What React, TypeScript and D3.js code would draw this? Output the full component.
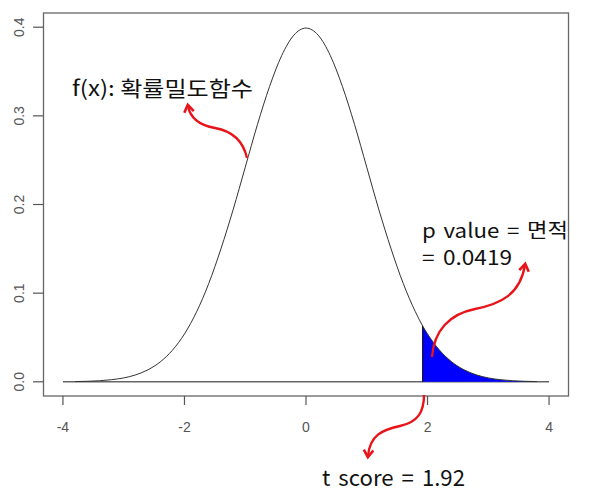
import React from "react";
import * as d3 from "d3";

// Density values (x, f(x))
const densX = [-3.8, -3.6, -3.4, -3.2, -3.0, -2.8, -2.6, -2.4, -2.2, -2.0, -1.8, -1.6, -1.4, -1.2, -1.0, -0.8, -0.6, -0.4, -0.2, 0.0, 0.2, 0.4, 0.6, 0.8, 1.0, 1.2, 1.4, 1.6, 1.8, 1.92, 2.0, 2.2, 2.4, 2.6, 2.8, 3.0, 3.2, 3.4, 3.6, 3.8];
const densY = [0.0003, 0.0006, 0.0012, 0.0024, 0.0044, 0.0079, 0.0136, 0.0224, 0.0355, 0.054, 0.079, 0.111, 0.150, 0.194, 0.242, 0.290, 0.333, 0.368, 0.391, 0.399, 0.391, 0.368, 0.333, 0.290, 0.242, 0.194, 0.150, 0.111, 0.079, 0.063, 0.054, 0.0355, 0.0224, 0.0136, 0.0079, 0.0044, 0.0024, 0.0012, 0.0006, 0.0003];
const tScore = 1.92;
const xTicks = [-4, -2, 0, 2, 4];
const yTicks = [0.0, 0.1, 0.2, 0.3, 0.4];
const xTickLabels = ["-4", "-2", "0", "2", "4"];
const yTickLabels = ["0.0", "0.1", "0.2", "0.3", "0.4"];
const labelFx = "f(x): 확률밀도함수";
const labelP1 = "p value = 면적";
const labelP2 = "= 0.0419";
const labelT = "t score = 1.92";

export default function App() {
  const x = d3.scaleLinear().domain([-4.32, 4.32]).range([43.5, 568.5]);
  const y = d3.scaleLinear().domain([-0.016, 0.416]).range([396, 13]);
  const pts: [number, number][] = densX.map((v, i) => [v, densY[i]]);
  const line = d3
    .line<[number, number]>()
    .x((d) => x(d[0]))
    .y((d) => y(d[1]))
    .curve(d3.curveMonotoneX);
  const tail = pts.filter((d) => d[0] >= tScore);
  const area = d3
    .area<[number, number]>()
    .x((d) => x(d[0]))
    .y0(y(0))
    .y1((d) => y(d[1]))
    .curve(d3.curveMonotoneX);
  const axisFont = "'Liberation Sans', Arial, sans-serif";
  const korFont = "'Noto Sans CJK KR', 'Noto Sans', sans-serif";
  const tickColor = "#555";
  return (
    <svg
      width={592}
      height={497}
      style={{ position: "absolute", left: 0, top: 0, background: "#fff" }}
    >
      <defs>
        <marker
          id="arr"
          viewBox="0 0 10 10"
          refX="6"
          refY="5"
          markerWidth="5"
          markerHeight="5"
          orient="auto"
          markerUnits="strokeWidth"
        >
          <path d="M1,1 L7,5 L1,9" fill="none" stroke="#e8141a" strokeWidth="2.2" />
        </marker>
      </defs>
      {/* plot box */}
      <rect
        x={x(-4.32)}
        y={y(0.416)}
        width={x(4.32) - x(-4.32)}
        height={y(-0.016) - y(0.416)}
        fill="none"
        stroke="#666"
        strokeWidth={1.3}
      />
      {/* x axis */}
      {xTicks.map((t, i) => (
        <g key={"xt" + i}>
          <line x1={x(t)} x2={x(t)} y1={396} y2={405} stroke={tickColor} strokeWidth={1.2} />
          <text
            x={x(t)}
            y={432}
            textAnchor="middle"
            fontFamily={axisFont}
            fontSize={14}
            fill={tickColor}
          >
            {xTickLabels[i]}
          </text>
        </g>
      ))}
      {/* y axis */}
      {yTicks.map((t, i) => (
        <g key={"yt" + i}>
          <line x1={33} x2={43.5} y1={y(t)} y2={y(t)} stroke={tickColor} strokeWidth={1.2} />
          <text
            transform={`translate(23.5,${y(t)}) rotate(-90)`}
            textAnchor="middle"
            fontFamily={axisFont}
            fontSize={14}
            fill={tickColor}
          >
            {yTickLabels[i]}
          </text>
        </g>
      ))}
      {/* baseline */}
      <line x1={x(-4)} x2={x(4)} y1={y(0)} y2={y(0)} stroke="#666" strokeWidth={1.6} />
      {/* shaded tail */}
      <path d={area(tail) || ""} fill="#0000ff" stroke="none" />
      <line x1={x(tScore)} x2={x(tScore)} y1={y(0)} y2={y(tail[0][1])} stroke="#000" strokeWidth={1} />
      {/* density curve */}
      <path d={line(pts) || ""} fill="none" stroke="#333" strokeWidth={1} />
      {/* annotations */}
      <text x={72} y={96} fontFamily={korFont} fontSize={21} fill="#111" textLength={181} lengthAdjust="spacingAndGlyphs">
        {labelFx}
      </text>
      <text x={422} y={238} fontFamily={korFont} fontSize={20} fill="#111" textLength={146} lengthAdjust="spacingAndGlyphs" style={{ wordSpacing: "2.5px" }}>
        {labelP1}
      </text>
      <text x={422} y={265} fontFamily={korFont} fontSize={20} fill="#111" textLength={90} lengthAdjust="spacingAndGlyphs" style={{ wordSpacing: "3px" }}>
        {labelP2}
      </text>
      <text x={322} y={486} fontFamily={korFont} fontSize={22} fill="#111" textLength={143} lengthAdjust="spacingAndGlyphs" style={{ wordSpacing: "3px" }}>
        {labelT}
      </text>
      {/* red arrows */}
      <path
        d="M247,158 C243,140 232,131 215,128 C198,125 190,117 188,106"
        fill="none"
        stroke="#e8141a"
        strokeWidth={2.4}
        markerEnd="url(#arr)"
      />
      <path
        d="M432,357 C434,330 450,314 475,309 C500,304 520,295 525,265"
        fill="none"
        stroke="#e8141a"
        strokeWidth={2.4}
        markerEnd="url(#arr)"
      />
      <path
        d="M424,395 C424,412 418,422 400,426 C382,430 370,435 368,456"
        fill="none"
        stroke="#e8141a"
        strokeWidth={2.4}
        markerEnd="url(#arr)"
      />
    </svg>
  );
}
